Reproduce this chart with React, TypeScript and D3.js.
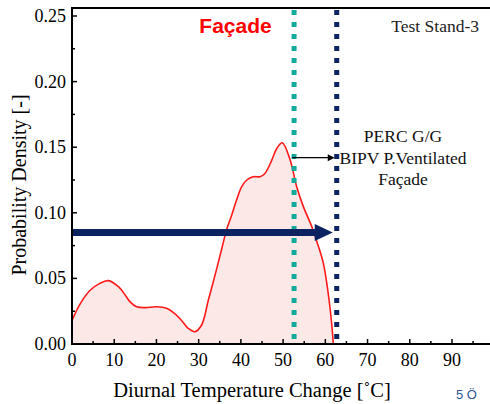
import React from "react";
import * as d3 from "d3";

const tempChange = [0, 2, 4.3, 6.5, 8.6, 11, 12.6, 13.7, 15.3, 17.3, 20.1, 22.4, 24.2, 25.8, 27.5, 29.1, 30.7, 32.3, 34, 35.5, 36.6, 37.8, 39, 40.2, 41.4, 42.9, 44.5, 45.7, 47.3, 48.5, 49.8, 51.6, 53.2, 54.8, 56.8, 58, 59.5, 61.1, 61.9];
const density = [0.018, 0.031, 0.041, 0.046, 0.0483, 0.0437, 0.0373, 0.0323, 0.0284, 0.0277, 0.0284, 0.0272, 0.0235, 0.0185, 0.012, 0.0094, 0.0145, 0.0335, 0.054, 0.073, 0.087, 0.098, 0.11, 0.12, 0.125, 0.1275, 0.1275, 0.13, 0.14, 0.149, 0.1534, 0.141, 0.12, 0.1047, 0.0894, 0.078, 0.062, 0.028, 0];
const xTicks = [0, 10, 20, 30, 40, 50, 60, 70, 80, 90];
const xMinor = [5, 15, 25, 35, 45, 55, 65, 75, 85, 95];
const yTicks = [0, 0.05, 0.1, 0.15, 0.2, 0.25];
const yMinor = [0.025, 0.075, 0.125, 0.175, 0.225];
const cyanLineX = 52.6;
const navyLineX = 62.7;
const bigArrowY = 0.085;
const smallArrowY = 0.142;

export default function App() {
  const W = 490, H = 404;
  const left = 72, bottom = 344, top = 8;
  const x = d3.scaleLinear().domain([0, 100]).range([left, 494.2]);
  const y = d3.scaleLinear().domain([0, 0.25]).range([bottom, 16]);
  const pts: [number, number][] = tempChange.map((t, i) => [t, density[i]]);
  const curve = d3.curveCatmullRom.alpha(0.5);
  const line = d3.line<[number, number]>().x(d => x(d[0])).y(d => y(d[1])).curve(curve);
  const area = d3.area<[number, number]>().x(d => x(d[0])).y0(y(0)).y1(d => y(d[1])).curve(curve);
  const serif = "'Liberation Serif', 'Times New Roman', serif";
  const by = y(bigArrowY);
  const sy = y(smallArrowY);
  const cx = x(cyanLineX), nx = x(navyLineX);
  return (
    <svg width={W} height={H} style={{ position: "absolute", left: 0, top: 0, background: "#fff" }}>
      <rect x={0} y={0} width={W} height={H} fill="#fff" />
      <path d={area(pts) || ""} fill="#fde8e8" />
      <path d={line(pts) || ""} fill="none" stroke="#ff1a1a" strokeWidth={1.6} />
      {/* vertical dotted lines */}
      <line x1={cx} x2={cx} y1={top + 2} y2={bottom} stroke="#12aa9c" strokeWidth={5} strokeDasharray="5 7" />
      <line x1={nx} x2={nx} y1={top + 2} y2={bottom} stroke="#0b2361" strokeWidth={5} strokeDasharray="5 7" />
      {/* big navy arrow */}
      <line x1={left} x2={nx - 20} y1={by} y2={by} stroke="#0b2361" strokeWidth={7} />
      <path d={`M${nx - 22},${by - 8.5} L${nx - 4},${by} L${nx - 22},${by + 8.5} Z`} fill="#0b2361" />
      {/* small black arrow */}
      <line x1={cx - 2} x2={nx - 8} y1={sy} y2={sy} stroke="#000" strokeWidth={1.3} />
      <path d={`M${nx - 9},${sy - 3.5} L${nx - 2},${sy} L${nx - 9},${sy + 3.5} Z`} fill="#000" />
      {/* axes */}
      <line x1={left} x2={W} y1={top} y2={top} stroke="#000" strokeWidth={2} />
      <line x1={left} x2={left} y1={top - 1} y2={bottom + 1} stroke="#000" strokeWidth={2} />
      <line x1={left - 1} x2={W} y1={bottom} y2={bottom} stroke="#000" strokeWidth={2} />
      {yTicks.map(t => (
        <g key={"y" + t}>
          <line x1={left} x2={left + 5} y1={y(t)} y2={y(t)} stroke="#000" strokeWidth={1.5} />
          <text x={left - 6} y={y(t) + 6} textAnchor="end" fontFamily={serif} fontSize={18} fill="#000">{t.toFixed(2)}</text>
        </g>
      ))}
      {yMinor.map(t => (
        <line key={"ym" + t} x1={left} x2={left + 3} y1={y(t)} y2={y(t)} stroke="#000" strokeWidth={1.5} />
      ))}
      {xTicks.map(t => (
        <g key={"x" + t}>
          <line x1={x(t)} x2={x(t)} y1={bottom} y2={bottom - 5} stroke="#000" strokeWidth={1.5} />
          <text x={x(t)} y={bottom + 22} textAnchor="middle" fontFamily={serif} fontSize={18} fill="#000">{t}</text>
        </g>
      ))}
      {xMinor.map(t => (
        <line key={"xm" + t} x1={x(t)} x2={x(t)} y1={bottom} y2={bottom - 3} stroke="#000" strokeWidth={1.5} />
      ))}
      {/* titles */}
      <text x={252} y={397} textAnchor="middle" fontFamily={serif} fontSize={20.5} fill="#000">Diurnal Temperature Change [˚C]</text>
      <text transform={`translate(26,185) rotate(-90)`} textAnchor="middle" fontFamily={serif} fontSize={20} fill="#000">Probability Density [-]</text>
      <text x={235.5} y={33} textAnchor="middle" fontFamily="'Liberation Sans', Arial, sans-serif" fontWeight="bold" fontSize={21} fill="#ff0000">Façade</text>
      <text x={479} y={32} textAnchor="end" fontFamily={serif} fontSize={17.5} fill="#222">Test Stand-3</text>
      <text x={403} y={142} textAnchor="middle" fontFamily={serif} fontSize={17.5} fill="#111">PERC G/G</text>
      <text x={403} y={163.5} textAnchor="middle" fontFamily={serif} fontSize={17.5} fill="#111">BIPV P.Ventilated</text>
      <text x={403} y={185} textAnchor="middle" fontFamily={serif} fontSize={17.5} fill="#111">Façade</text>
      <text x={456} y={399} fontFamily="'Liberation Sans', Arial, sans-serif" fontSize={13} fill="#2f5597">5 Ö</text>
    </svg>
  );
}
